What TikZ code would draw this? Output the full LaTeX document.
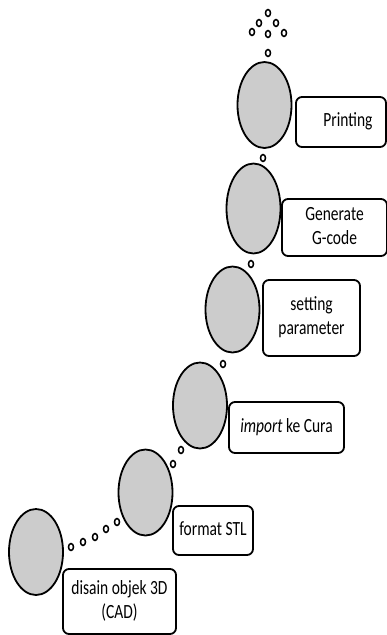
\documentclass[tikz,border=0pt]{standalone}
\usepackage{fontspec}
\setmainfont{Carlito}
\usetikzlibrary{shapes.geometric}
% text of the original is drawn a little taller than wide
\newcommand{\tallText}[1]{\scalebox{1}[1.3]{\begin{tabular}{@{}c@{}}#1\end{tabular}}}

\begin{document}
\begin{tikzpicture}[x=1pt,y=-1pt]
\tikzstyle{every path}=[line width=1.8pt]
\tikzstyle{stage}=[ellipse,draw,fill=black!20,inner sep=0pt,minimum width=54pt,minimum height=86pt]
\tikzstyle{label box}=[draw,rounded corners=6pt,fill=white,align=center,inner sep=0pt,
  font=\fontsize{15.5}{18.5}\selectfont]
\tikzstyle{bubble}=[ellipse,draw,line width=1.5pt,inner sep=0pt,minimum width=5pt,minimum height=7pt]
\useasboundingbox (0,0) rectangle (387,635);
% stages, from bottom left to top right
\node [stage] (cad) at (36,552) {};
\node [stage] (stl) at (145.5,492.5) {};
\node [stage] (cura) at (200,405.5) {};
\node [stage] (param) at (232.5,309.5) {};
\node [stage,minimum height=90pt] (gcode) at (253.5,208.5) {};
\node [stage] (print) at (264.5,105) {};
% labels
\node [label box,minimum width=113pt,minimum height=65pt] (cadtxt) at (119.5,601.5) {\tallText{disain objek 3D\\(CAD)}};
\node [label box,minimum width=80pt,minimum height=49pt] (stltxt) at (213,530.5) {\tallText{format STL}};
\node [label box,minimum width=115pt,minimum height=51pt] (curatxt) at (286.5,427.5) {\tallText{\textit{import} ke Cura}};
\node [label box,minimum width=97pt,minimum height=76pt] (paramtxt) at (311.5,318) {\tallText{setting\\parameter}};
\node [label box,minimum width=105pt,minimum height=57pt] (gcodetxt) at (334.5,227.5) {\tallText{Generate\\G-code}};
\node [label box,minimum width=90pt,minimum height=50pt] (printtxt) at (341,122) {\tallText{\hspace*{14pt}Printing}};
% small bubbles
\foreach \x/\y [count=\i] in {71/547,83/542,95/537,106/529,117/522,173/464,181/450,223/364,
  251/264,263/158,268/53,268/13,259/23,276/23,252/32,268/34,284/33}
  \node [bubble] (b\i) at (\x,\y) {};
\end{tikzpicture}
\end{document}
